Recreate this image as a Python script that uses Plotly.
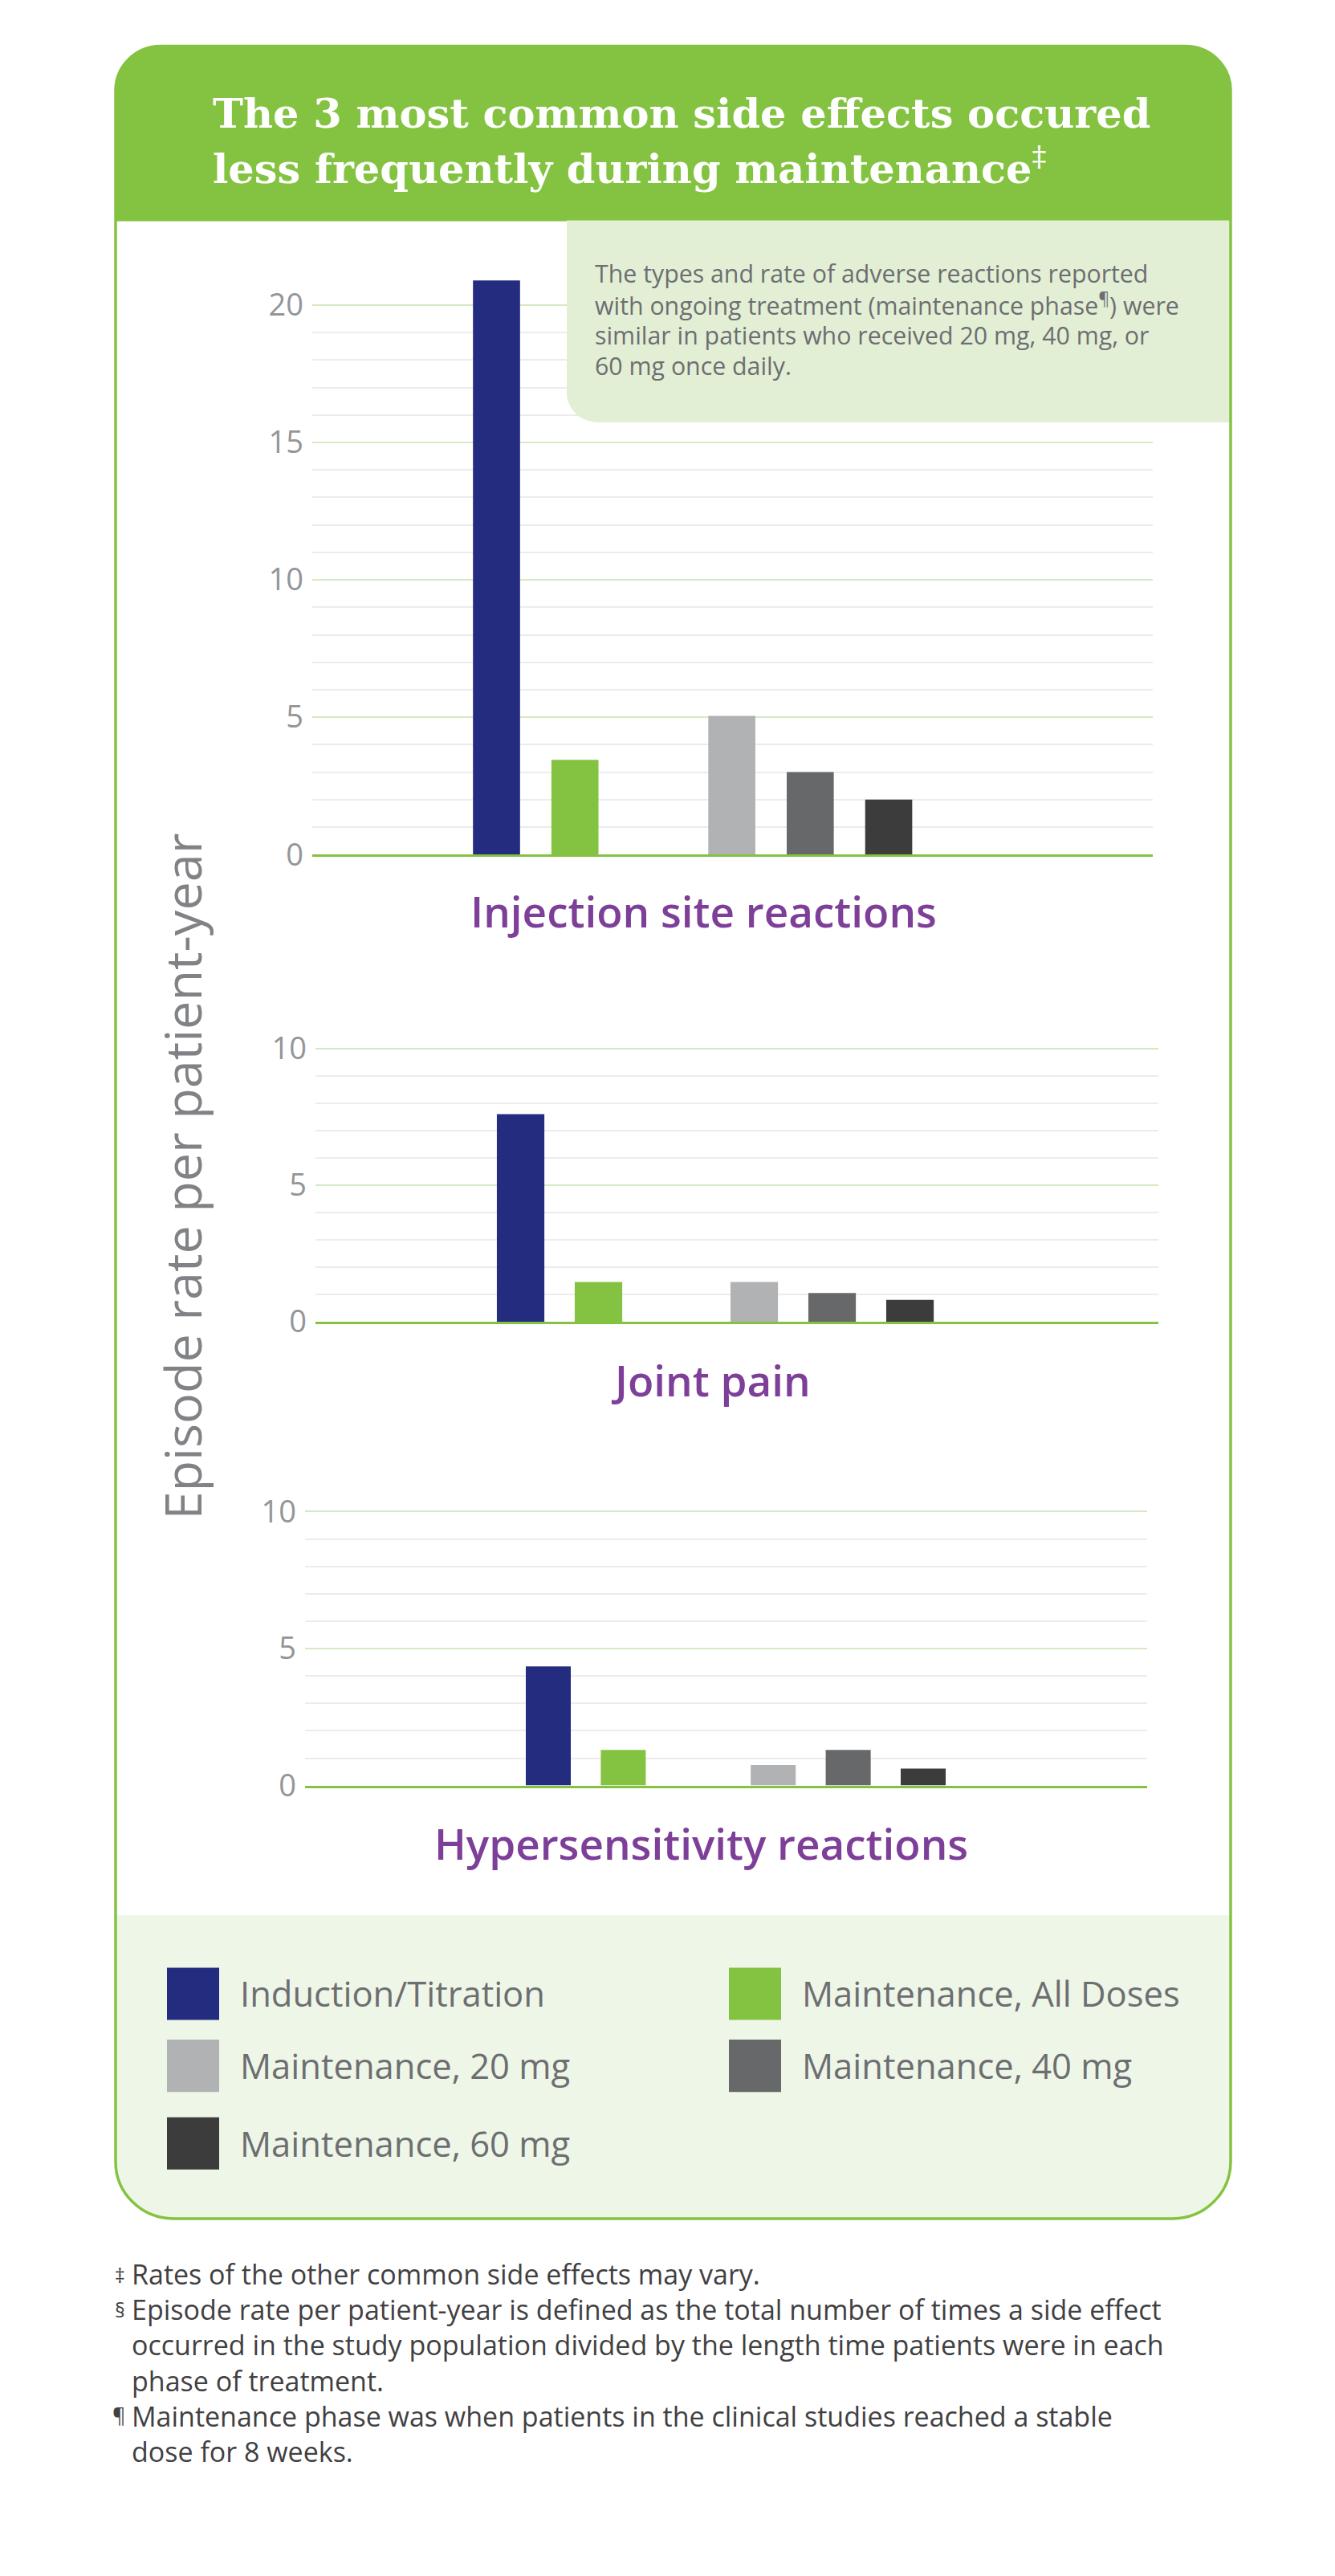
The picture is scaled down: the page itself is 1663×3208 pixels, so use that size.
import plotly.graph_objects as go

# ---------------- data ----------------
SERIES = ["Induction/Titration", "Maintenance, All Doses", "Maintenance, 20 mg",
          "Maintenance, 40 mg", "Maintenance, 60 mg"]
COLORS = ["#232c7f", "#84c341", "#b1b2b4", "#67686a", "#3c3c3c"]
PANELS = ["Injection site reactions", "Joint pain", "Hypersensitivity reactions"]
INJECTION_SITE = [20.9, 3.45, 5.05, 3.0, 2.0]
JOINT_PAIN = [7.6, 1.45, 1.45, 1.05, 0.8]
HYPERSENSITIVITY = [4.35, 1.3, 0.75, 1.3, 0.62]
PANEL_VALUES = [INJECTION_SITE, JOINT_PAIN, HYPERSENSITIVITY]
TICKS_P1 = [0, 5, 10, 15, 20]
TICKS_P23 = [0, 5, 10]
PANEL_TICKS = [TICKS_P1, TICKS_P23, TICKS_P23]
Y_TITLE = "Episode rate per patient-year"
TITLE_LINES = ["<b>The 3 most common side effects occured</b>",
               "<b>less frequently during maintenance</b><sup>‡</sup>"]
NOTE_LINES = ["The types and rate of adverse reactions reported",
              "with ongoing treatment (maintenance phase<sup>¶</sup>) were",
              "similar in patients who received 20 mg, 40 mg, or",
              "60 mg once daily."]
FOOTNOTE_SYMBOLS = ["‡", "§", "¶"]
FOOTNOTES = [["Rates of the other common side effects may vary."],
             ["Episode rate per patient-year is defined as the total number of times a side effect",
              "occurred in the study population divided by the length time patients were in each",
              "phase of treatment."],
             ["Maintenance phase was when patients in the clinical studies reached a stable",
              "dose for 8 weeks."]]

# category slots: a blank slot separates the two overall groups from the dose groups
SLOTS = [i + (1 if i >= 2 else 0) for i in range(len(SERIES))]

# ---------------- page geometry helpers ----------------
W, H = 1663, 3208
OFF = 8  # default body margin of the html page
FW, FH = W - 2 * OFF, H - 2 * OFF


def px(x):
    return (x - OFF) / FW


def py(y):
    return 1 - (y - OFF) / FH


K = 0.5523


def rounded_path(x0, y0, x1, y1, rtl=0, rtr=0, rbr=0, rbl=0):
    def P(x, y):
        return f"{px(x):.6f},{py(y):.6f}"

    def corner(p0, k, p3):
        c1 = (p0[0] + K * (k[0] - p0[0]), p0[1] + K * (k[1] - p0[1]))
        c2 = (p3[0] + K * (k[0] - p3[0]), p3[1] + K * (k[1] - p3[1]))
        return f" C {P(*c1)} {P(*c2)} {P(*p3)}"

    d = f"M {P(x0 + rtl, y0)} L {P(x1 - rtr, y0)}"
    if rtr:
        d += corner((x1 - rtr, y0), (x1, y0), (x1, y0 + rtr))
    d += f" L {P(x1, y1 - rbr)}"
    if rbr:
        d += corner((x1, y1 - rbr), (x1, y1), (x1 - rbr, y1))
    d += f" L {P(x0 + rbl, y1)}"
    if rbl:
        d += corner((x0 + rbl, y1), (x0, y1), (x0, y1 - rbl))
    d += f" L {P(x0, y0 + rtl)}"
    if rtl:
        d += corner((x0, y0 + rtl), (x0, y0), (x0 + rtl, y0))
    return d + " Z"


# panel layout (page px): plot left/right, zero line y, px per unit, y max, x range, bar width, title centre
GEOM = [
    dict(x0=389, x1=1436, y0=1058, ppu=34.7, ymax=20.95, xr=[-2.349, 8.367], bw=0.60, tx=876, ty=1129),
    dict(x0=393, x1=1443, y0=1648, ppu=34.5, ymax=10.2, xr=[-2.634, 8.19], bw=0.61, tx=886, ty=1722),
    dict(x0=380, x1=1429, y0=2234, ppu=34.6, ymax=10.2, xr=[-3.244, 7.987], bw=0.60, tx=873, ty=2307),
]

CARD = dict(x0=144, x1=1533, y0=37, y1=2781, rt=56, rb=72)
GREEN = "#84c341"
TEXT_GRAY = "#6d6e71"

fig = go.Figure()
layout_axes = {}
for p, (vals, g) in enumerate(zip(PANEL_VALUES, GEOM)):
    n = "" if p == 0 else str(p + 1)
    for i, name in enumerate(SERIES):
        fig.add_trace(go.Bar(
            x=[SLOTS[i]], y=[vals[i]], name=name, width=g["bw"],
            marker=dict(color=COLORS[i], line=dict(width=0)),
            xaxis="x" + n, yaxis="y" + n, showlegend=False,
            hovertemplate=f"{PANELS[p]}<br>{name}: %{{y}}<extra></extra>"))
    top = g["y0"] - g["ymax"] * g["ppu"]
    layout_axes["xaxis" + n] = dict(
        domain=[px(g["x0"]), px(g["x1"])], range=g["xr"], anchor="y" + n,
        showgrid=False, zeroline=False, showticklabels=False,
        showline=True, linecolor=GREEN, linewidth=3, fixedrange=True)
    layout_axes["yaxis" + n] = dict(
        domain=[py(g["y0"]), py(top)], range=[0, g["ymax"]], anchor="x" + n,
        tickmode="array", tickvals=PANEL_TICKS[p],
        showgrid=True, gridcolor="#d5e9c3", gridwidth=2,
        minor=dict(dtick=1, tick0=0, showgrid=True, gridcolor="#ececec", gridwidth=2),
        zeroline=False, showline=False, ticks="",
        tickfont=dict(family="Open Sans", size=38, color="#939598"),
        ticklabelstandoff=10, fixedrange=True)

shapes = []
# header
shapes.append(dict(type="path", xref="paper", yref="paper", layer="below",
                   path=rounded_path(CARD["x0"], CARD["y0"], CARD["x1"], 258, rtl=CARD["rt"], rtr=CARD["rt"]),
                   fillcolor=GREEN, line=dict(width=0)))
# legend area
shapes.append(dict(type="path", xref="paper", yref="paper", layer="below",
                   path=rounded_path(CARD["x0"], 2398, CARD["x1"], CARD["y1"], rbr=CARD["rb"], rbl=CARD["rb"]),
                   fillcolor="#eef6e7", line=dict(width=0)))
# note box
shapes.append(dict(type="path", xref="paper", yref="paper", layer="above",
                   path=rounded_path(706, 257, CARD["x1"], 512, rbl=38),
                   fillcolor="#e2efd5", line=dict(width=0)))
# card border
shapes.append(dict(type="path", xref="paper", yref="paper", layer="above",
                   path=rounded_path(CARD["x0"], CARD["y0"], CARD["x1"], CARD["y1"],
                                     CARD["rt"], CARD["rt"], CARD["rb"], CARD["rb"]),
                   fillcolor="rgba(0,0,0,0)", line=dict(color=GREEN, width=3.5)))

annotations = []


def text(t, x, y, size, color, family="Open Sans", xanchor="left", weight=None, angle=0):
    f = dict(family=family, size=size, color=color)
    if weight:
        f["weight"] = weight
    annotations.append(dict(text=t, x=px(x), y=py(y), xref="paper", yref="paper",
                            xanchor=xanchor, yanchor="middle", showarrow=False,
                            font=f, textangle=angle, align="left"))


# title
for t, y in zip(TITLE_LINES, [122, 189]):
    text(t, 263, y, 51, "white", family="DejaVu Serif")
# note
for t, y in zip(NOTE_LINES, [324, 363, 402, 441]):
    text(t, 739, y, 30.3, TEXT_GRAY)
# panel titles
for name, g in zip(PANELS, GEOM):
    text(name, g["tx"], g["ty"], 53, "#7d3f98", xanchor="center", weight=600)
# y title
text(Y_TITLE, 226, 1465, 63, "#808285", xanchor="center", angle=-90)

# legend (manual, large swatches)
LEG_POS = [(208, 2497), (908, 2497), (208, 2588), (908, 2588), (208, 2686)]
for (lx, ly), name, col in zip(LEG_POS, SERIES, COLORS):
    shapes.append(dict(type="rect", xref="paper", yref="paper", layer="above",
                       x0=px(lx), x1=px(lx + 65), y0=py(ly + 33), y1=py(ly - 33),
                       fillcolor=col, line=dict(width=0)))
    text(name, lx + 89, ly, 43.5, TEXT_GRAY)

# footnotes: one text block (line spacing handled by plotly), hanging symbols on the left
FN_SIZE = 34
all_lines = [ln for block in FOOTNOTES for ln in block]
first_c = 2853
step = FN_SIZE * 1.3
last_c = first_c + step * (len(all_lines) - 1)
text("<br>".join(all_lines), 162, (first_c + last_c) / 2, FN_SIZE, "#414042")
line_idx = 0
for sym, block in zip(FOOTNOTE_SYMBOLS, FOOTNOTES):
    text(sym, 158, first_c + step * line_idx - 1, 25, "#414042", xanchor="right")
    line_idx += len(block)

fig.update_layout(
    width=FW, height=FH, margin=dict(l=0, r=0, t=0, b=0),
    paper_bgcolor="white", plot_bgcolor="rgba(0,0,0,0)",
    barmode="overlay", showlegend=False,
    shapes=shapes, annotations=annotations, **layout_axes)

fig.write_html("out.html", config={"displayModeBar": False})
